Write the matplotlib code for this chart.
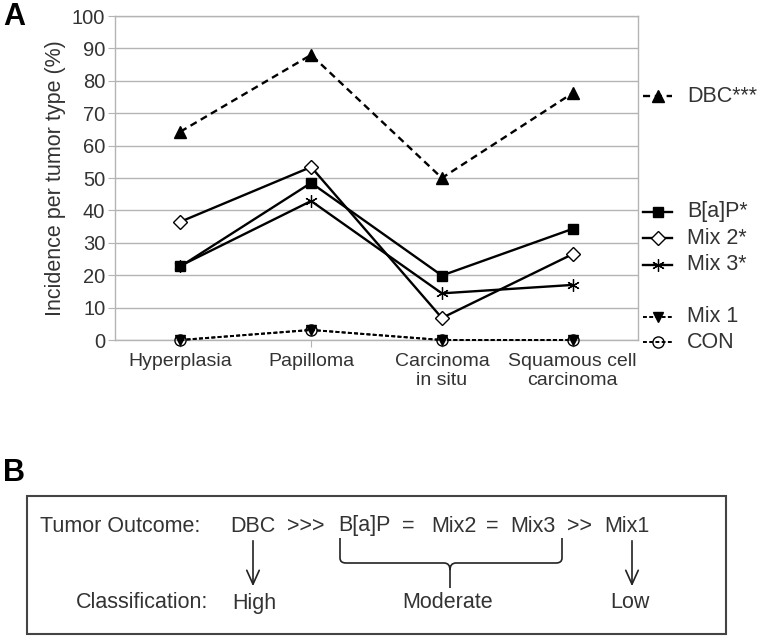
import numpy as np
import matplotlib
matplotlib.use("Agg")
from matplotlib import pyplot as plt
from matplotlib.path import Path
from matplotlib.patches import PathPatch, Rectangle

plt.rcParams['font.family'] = ['Liberation Sans', 'DejaVu Sans']

# Данные панели A
categories = ["Hyperplasia", "Papilloma", "Carcinoma\nin situ", "Squamous cell\ncarcinoma"]
dbc = [64.3, 88.0, 50.0, 76.2]
bap = [22.7, 48.5, 19.9, 34.3]
mix2 = [36.5, 53.4, 6.8, 26.5]
mix3 = [22.9, 42.9, 14.4, 17.0]
mix1 = [0.0, 3.1, 0.0, 0.0]
con = [0.0, 3.1, 0.0, 0.0]

labels = ["DBC***", "B[a]P*", "Mix 2*", "Mix 3*", "Mix 1", "CON"]

grey = '#b4b4b4'
txt = '#333333'

fig = plt.figure(figsize=(7.6, 6.4), dpi=100)
ax = fig.add_axes([115 / 760, 1 - 340 / 640, 523 / 760, 324 / 640])

x = np.arange(len(categories))

styles = [
    dict(ls=(0, (3, 2)), lw=1.7, marker='^', ms=8, mfc='black', mec='black'),
    dict(ls='-', lw=1.7, marker='s', ms=7, mfc='black', mec='black'),
    dict(ls='-', lw=1.7, marker='D', ms=7.5, mfc='white', mec='black', mew=1.0),
    dict(ls='-', lw=1.7, marker=(6, 2, 0), ms=9, mfc='black', mec='black', mew=0.9),
    dict(ls=(0, (2, 1.2)), lw=1.4, marker='v', ms=7, mfc='black', mec='black'),
    dict(ls=(0, (2, 1.2)), lw=1.4, marker='o', ms=8, mfc='none', mec='black', mew=1.0),
]
series = [dbc, bap, mix2, mix3, mix1, con]

for vals, st in zip(series, styles):
    ax.plot(x, vals, color='black', zorder=3, clip_on=False, **st)

ax.set_xlim(-0.5, 3.5)
ax.set_ylim(0, 100)
ax.set_yticks(np.arange(0, 101, 10))
ax.set_xticks(x)
ax.set_xticklabels(categories, fontsize=14, color=txt, linespacing=1.2)
ax.tick_params(axis='y', labelsize=14.5, labelcolor=txt, color=grey, length=5, pad=2)
ax.tick_params(axis='x', color=grey, length=5, pad=4)
ax.grid(axis='y', color=grey, lw=1)
ax.set_axisbelow(True)
for s in ax.spines.values():
    s.set_color(grey)
    s.set_linewidth(1)
ax.set_ylabel("Incidence per tumor type (%)", fontsize=15.5, color=txt, labelpad=4)

# Наложенная ось в пикселях для легенды и панели B
ov = fig.add_axes([0, 0, 1, 1])
ov.set_xlim(0, 760)
ov.set_ylim(640, 0)
ov.axis('off')

# Легенда справа
leg_y = [96, 212, 238, 265, 317, 342]
for lab, st, yy in zip(labels, styles, leg_y):
    ov.plot([643, 672], [yy, yy], color='black', ls=st['ls'], lw=st['lw'])
    mst = {k: v for k, v in st.items() if k not in ('ls', 'lw')}
    ov.plot([657.5], [yy], color='black', ls='none', **mst)
    ov.text(687, yy, lab, fontsize=15.5, color=txt, va='center', ha='left')

# Подписи панелей
ov.text(3, 17, "A", fontsize=22, fontweight='bold', va='center', ha='left')
ov.text(3, 473, "B", fontsize=22, fontweight='bold', va='center', ha='left')

# Панель B
ov.add_patch(Rectangle((27, 496), 699, 138, fill=False, ec='#444444', lw=1.5))
fs = 15.5
yt = 526
yc = 603
ov.text(40, yt, "Tumor Outcome:", fontsize=fs, color=txt, va='center', ha='left')
ov.text(253, yt, "DBC", fontsize=fs, color=txt, va='center', ha='center')
ov.text(306, yt, ">>>", fontsize=fs, color=txt, va='center', ha='center')
ov.text(364, yt, "B[a]P", fontsize=fs, color=txt, va='center', ha='center')
ov.text(408, yt, "=", fontsize=fs, color=txt, va='center', ha='center')
ov.text(454, yt, "Mix2", fontsize=fs, color=txt, va='center', ha='center')
ov.text(492, yt, "=", fontsize=fs, color=txt, va='center', ha='center')
ov.text(533, yt, "Mix3", fontsize=fs, color=txt, va='center', ha='center')
ov.text(580, yt, ">>", fontsize=fs, color=txt, va='center', ha='center')
ov.text(627, yt, "Mix1", fontsize=fs, color=txt, va='center', ha='center')

ov.text(208, yc, "Classification:", fontsize=fs, color=txt, va='center', ha='right')
ov.text(254, yc, "High", fontsize=fs, color=txt, va='center', ha='center')
ov.text(448, yc, "Moderate", fontsize=fs, color=txt, va='center', ha='center')
ov.text(630, yc, "Low", fontsize=fs, color=txt, va='center', ha='center')

for ax_x in (253, 632):
    ov.annotate("", xy=(ax_x, 589), xytext=(ax_x, 538),
                arrowprops=dict(arrowstyle='->,head_length=1.0,head_width=0.45',
                                color='#222222', lw=1.2))

# Фигурная скобка
verts = [(340, 538), (340, 558), (340, 563), (346, 563),
         (444, 563), (450, 563), (450, 570), (450, 588),
         (450, 570), (450, 563), (456, 563), (556, 563),
         (562, 563), (562, 558), (562, 538)]
codes = [Path.MOVETO, Path.LINETO, Path.CURVE3, Path.CURVE3,
         Path.LINETO, Path.CURVE3, Path.CURVE3, Path.LINETO,
         Path.MOVETO, Path.CURVE3, Path.CURVE3, Path.LINETO,
         Path.CURVE3, Path.CURVE3, Path.LINETO]
ov.add_patch(PathPatch(Path(verts, codes), fill=False, ec='#222222', lw=1.2))

plt.savefig("out.png", dpi=100)
